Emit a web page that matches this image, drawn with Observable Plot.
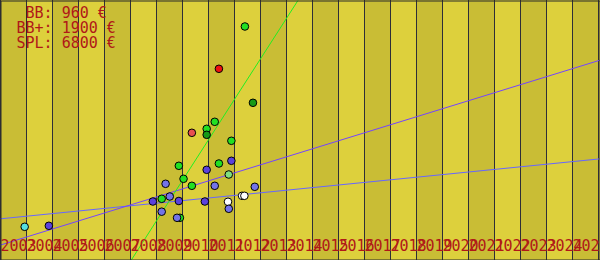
<!DOCTYPE html>
<html>
<head>
<meta charset="utf-8">
<script src="https://cdn.jsdelivr.net/npm/d3@7"></script>
<script src="https://cdn.jsdelivr.net/npm/@observablehq/plot@0.6"></script>
<style>
  html, body { margin: 0; padding: 0; background: #fff; }
  #chart svg text { white-space: pre; }
</style>
</head>
<body>
<div id="chart"></div>
<script>
// ---- data ----
const tickYears = [2003, 2004, 2005, 2006, 2007, 2008, 2009, 2010, 2011, 2012, 2013, 2014,
  2015, 2016, 2017, 2018, 2019, 2020, 2021, 2022, 2023, 2024, 2025];
const gridYears = [2003, 2004, 2005, 2006, 2007, 2008, 2009, 2010, 2011, 2012, 2013, 2014,
  2015, 2016, 2017, 2018, 2019, 2020, 2021, 2022, 2023, 2024, 2025, 2026];

const legendNames = [" BB", "BB+", "SPL"];
const legendPrices = [960, 1900, 6800];

// points: year (fractional), value, group
const pointYears = [2003.93, 2004.86, 2008.86, 2009.20, 2009.51, 2009.86, 2010.86, 2011.75,
  2011.78, 2009.20, 2009.90, 2009.79, 2009.35, 2010.04, 2010.36, 2011.24, 2012.78, 2012.29,
  2012.38, 2011.78, 2011.88, 2010.93, 2009.86, 2011.40, 2011.88, 2011.24, 2010.93, 2010.93,
  2010.36, 2012.71, 2011.40, 2012.40];
const pointValues = [33.7, 34.7, 59, 61.7, 64, 59.5, 59, 58.7,
  51.7, 48.8, 42.7, 42.7, 76.7, 81.7, 74.7, 74.7, 73.7, 64.7,
  64.7, 86, 99.7, 90.7, 94.7, 97, 119.7, 138.7, 131.7, 125.7,
  127.7, 157.7, 191.7, 234];
const pointGroups = ["C", "P", "P", "G", "LP", "P", "P", "W",
  "LP", "LP", "G", "LP", "LP", "G", "G", "LP", "LP", "W",
  "W", "LG", "P", "P", "G", "G", "G", "G", "G", "DG",
  "S", "DG", "R", "G"];

// trend lines: start/end year and value
const trendNames = ["flat", "steep", "green"];
const trendX1 = [2003, 2003, 2008.02];
const trendY1 = [41.7, 15.5, 0];
const trendX2 = [2026.08, 2026.08, 2014.44];
const trendY2 = [101.7, 200.5, 260];

// ---- build ----
const points = pointYears.map((x, i) => ({x, y: pointValues[i], g: pointGroups[i]}));
const trends = trendNames.map((n, i) => ({n, x1: trendX1[i], y1: trendY1[i], x2: trendX2[i], y2: trendY2[i]}));
const bandsDark = tickYears.filter((d, i) => i % 2 === 0);
const bandsLight = tickYears.filter((d, i) => i % 2 === 1);
const legendText = legendNames.map((n, i) => `${n}: ${legendPrices[i]} €`).join("\n");

const red = "#b01818";
const mono = "DejaVu Sans Mono";

const chart = Plot.plot({
  width: 600,
  height: 260,
  margin: 0,
  style: {background: "#ddd03c", overflow: "hidden"},
  x: {domain: [2003, 2026], range: [0, 598], axis: null},
  y: {domain: [0, 260], range: [260, 0], axis: null},
  color: {
    type: "ordinal",
    domain: ["G", "DG", "P", "LP", "W", "C", "LG", "R", "S", "flat", "steep", "green"],
    range: ["#22e022", "#179a17", "#5b42dc", "#7373e8", "#ffffff", "#55e0e0", "#80e080", "#ee1111", "#e85050",
      "#6666ff", "#7444ff", "#22ee22"]
  },
  marks: [
    Plot.rect(bandsDark, {x1: d => d, x2: d => d + 1, fill: "#c9bd35"}),
    Plot.rect(bandsLight, {x1: d => d, x2: d => d + 1, fill: "#ddd03c"}),
    Plot.ruleX(gridYears, {stroke: "#2e2e38", strokeWidth: 1}),
    Plot.link(trends, {x1: "x1", y1: "y1", x2: "x2", y2: "y2",
      stroke: "n", strokeWidth: 1}),
    Plot.dot(points, {x: "x", y: "y", fill: "g", r: 3.8, stroke: "#000", strokeWidth: 1}),
    Plot.text(tickYears, {x: d => d, text: d => String(d), frameAnchor: "bottom",
      textAnchor: "start", lineAnchor: "bottom", dy: -10, fill: red,
      fontFamily: mono, fontSize: 15}),
    Plot.text([legendText], {text: d => d, frameAnchor: "top-left", textAnchor: "start",
      lineAnchor: "top", dx: 16, dy: 7, lineHeight: 1, fill: red,
      fontFamily: mono, fontSize: 15}),
    Plot.frame({stroke: "#2a2a2a", inset: 0.5})
  ]
});

document.getElementById("chart").appendChild(chart);
</script>
</body>
</html>
